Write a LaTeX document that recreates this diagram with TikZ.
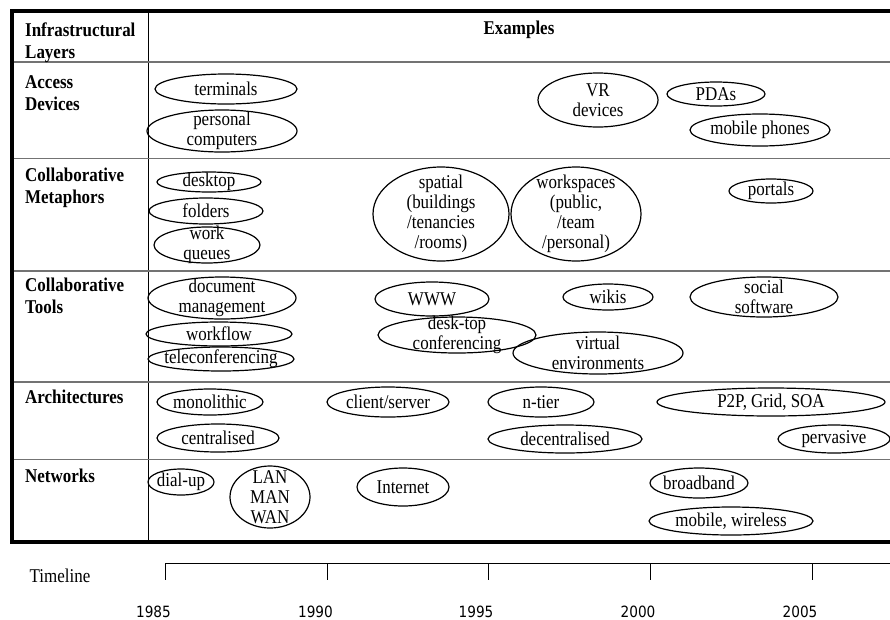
\documentclass[tikz,border=0pt]{standalone}
\usepackage{fontspec}
\setmainfont[FakeStretch=0.87]{Liberation Serif}
\newfontfamily\yearfont[FakeStretch=0.88]{DejaVu Sans}
\usetikzlibrary{shapes.geometric}
\newcommand\ovl[6]{\node[oval, minimum width={2*#4}, minimum height={2*#5}, label={[txt]center:{#6}}] (#1) at (#2,#3) {};}
\begin{document}
\begin{tikzpicture}[x=1pt,y=-1pt,
  oval/.style={ellipse, draw, line width=1.2pt, inner sep=0pt, outer sep=0pt},
  txt/.style={font=\fontsize{19.5}{20}\selectfont, align=center, inner sep=0pt},
  hdr/.style={font=\fontsize{19.5}{22}\selectfont\bfseries, inner sep=0pt, anchor=base west},
  rowline/.style={draw=black!55, line width=1.1pt},
  border/.style={line width=4pt, line join=miter},
  tick/.style={line width=0.9pt},
  year/.style={font=\yearfont\fontsize{15.5}{16}\selectfont, inner sep=0pt, anchor=base}]
\useasboundingbox (0,0) rectangle (890,619);
% table frame
\draw[border] (890,10.5) -- (11.5,10.5) -- (11.5,542) -- (890,542);
\draw[line width=1pt] (148,10.5) -- (148,542);
\foreach \yy in {62,158.5,271,382,459.5} \draw[rowline] (13.5,\yy) -- (890,\yy);
% header texts
\node[hdr] (h1a) at (25,36) {Infrastructural};
\node[hdr] (h1b) at (25,58) {Layers};
\node[hdr, anchor=base] (hex) at (519,34) {Examples};
\node[hdr] (h2a) at (25,88) {Access};
\node[hdr] (h2b) at (25,110) {Devices};
\node[hdr] (h3a) at (25,181) {Collaborative};
\node[hdr] (h3b) at (25,203) {Metaphors};
\node[hdr] (h4a) at (25,291) {Collaborative};
\node[hdr] (h4b) at (25,313) {Tools};
\node[hdr] (h5) at (25,403) {Architectures};
\node[hdr] (h6) at (25,482) {Networks};
% Access devices
\ovl{terminals}{226}{89}{71}{15}{terminals}
\ovl{pc}{222}{131}{75}{21}{personal\\computers}
\ovl{vr}{598}{100}{60}{27}{VR\\devices}
\ovl{pda}{716}{94}{49}{12}{PDAs}
\ovl{mobile}{760}{130}{70}{16}{mobile phones}
% Collaborative metaphors
\ovl{desktop}{209}{182}{52}{10}{desktop}
\ovl{folders}{206}{211}{57}{13}{folders}
\ovl{workq}{207}{245}{53}{18}{work\\queues}
\ovl{spatial}{441}{214}{68}{47}{spatial\\(buildings\\/tenancies\\/rooms)}
\ovl{workspaces}{576}{214}{65}{47}{workspaces\\(public,\\/team\\/personal)}
\ovl{portals}{771}{191}{42}{12}{portals}
% Collaborative tools
\ovl{docmgmt}{222}{298}{74}{21}{document\\management}
\ovl{workflow}{219}{334}{73}{12}{workflow}
\ovl{telecon}{221}{359}{73}{12}{teleconferencing}
\ovl{www}{432}{299}{57}{17}{WWW}
\ovl{dtconf}{457}{335}{79}{18}{desk-top\\conferencing}
\ovl{wikis}{608}{297}{45}{13}{wikis}
\ovl{virtual}{598}{353}{85}{21}{virtual\\environments}
\ovl{social}{764}{297}{74}{20}{social\\software}
% Architectures
\ovl{mono}{210}{402}{53}{13}{monolithic}
\ovl{central}{218}{438}{61}{14}{centralised}
\ovl{clientserver}{388}{402}{61}{15}{client/server}
\ovl{ntier}{541}{402}{53}{15}{n-tier}
\ovl{p2p}{771}{402}{114}{14}{P2P, Grid, SOA}
\ovl{decentral}{565}{439}{77}{14}{decentralised}
\ovl{pervasive}{834}{439}{56}{14}{pervasive}
% Networks
\ovl{dialup}{181}{482}{33}{13}{dial-up}
\ovl{lan}{270}{497}{40}{31}{LAN\\MAN\\WAN}
\ovl{internet}{403}{487}{46}{19}{Internet}
\ovl{broadband}{699}{483}{49}{15}{broadband}
\ovl{mobwire}{731}{521}{82}{14}{mobile, wireless}
% Timeline
\node[font=\fontsize{19.5}{20}\selectfont, inner sep=0pt, anchor=base] (tl) at (60,582) {Timeline};
\coordinate (t0) at (165.5,563);
\coordinate (tend) at (890,563);
\draw[tick] (t0) -- (tend);
\foreach \xx/\yr in {165.5/1985,327.5/1990,488/1995,650/2000,812/2005}{
  \draw[tick] (\xx,563) -- (\xx,580);
  \node[year] (y\yr) at (\xx-12,617) {\yr};
}
\end{tikzpicture}
\end{document}
